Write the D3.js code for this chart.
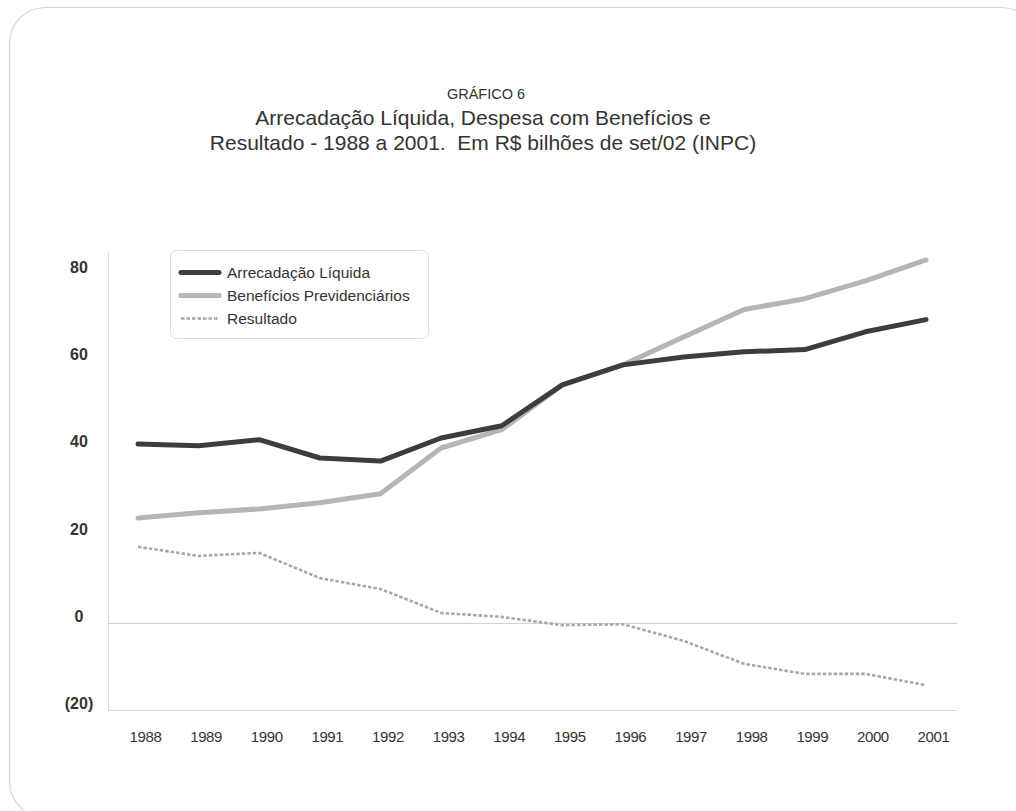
<!DOCTYPE html>
<html>
<head>
<meta charset="utf-8">
<script src="https://cdn.jsdelivr.net/npm/d3@7/dist/d3.min.js"></script>
<style>
  html, body { margin: 0; padding: 0; background: #fff; }
  svg { display: block; font-family: "Liberation Sans", Arial, Helvetica, sans-serif; }
</style>
</head>
<body>
<svg id="chart" width="1016" height="811"></svg>
<script>
// Anos da série
const years = [1988, 1989, 1990, 1991, 1992, 1993, 1994, 1995, 1996, 1997, 1998, 1999, 2000, 2001];
// Valores em R$ bilhões de set/02 (INPC)
const arrecadacao = [41.1, 40.7, 42.1, 37.9, 37.2, 42.5, 45.3, 54.7, 59.3, 61.1, 62.3, 62.8, 66.9, 69.7];
const beneficios  = [24.1, 25.3, 26.2, 27.6, 29.7, 40.2, 44.4, 54.7, 59.3, 65.7, 72.0, 74.5, 78.6, 83.4];
const resultado   = [17.5, 15.4, 16.1, 10.3, 7.8, 2.3, 1.4, -0.5, -0.3, -4.1, -9.4, -11.7, -11.7, -14.3];
// Marcas do eixo vertical
const yTicks = [-20, 0, 20, 40, 60, 80];
const yTickLabels = ["(20)", "0", "20", "40", "60", "80"];
const seriesNames = ["Arrecadação Líquida", "Benefícios Previdenciários", "Resultado"];

const svg = d3.select("#chart");

// Moldura arredondada
svg.append("rect")
  .attr("x", 9.5).attr("y", 7.5)
  .attr("width", 1028).attr("height", 810)
  .attr("rx", 36).attr("ry", 36)
  .attr("fill", "#fff")
  .attr("stroke", "#d6d6d6").attr("stroke-width", 1.2);

// Títulos
svg.append("text").attr("x", 486).attr("y", 99)
  .attr("text-anchor", "middle").attr("font-size", 14.5).attr("fill", "#333")
  .text("GRÁFICO 6");
svg.append("text").attr("x", 483).attr("y", 124.5)
  .attr("text-anchor", "middle").attr("font-size", 21).attr("fill", "#333")
  .text("Arrecadação Líquida, Despesa com Benefícios e");
svg.append("text").attr("x", 483).attr("y", 149.5)
  .attr("text-anchor", "middle").attr("font-size", 21).attr("fill", "#333")
  .attr("xml:space", "preserve")
  .text("Resultado - 1988 a 2001.  Em R$ bilhões de set/02 (INPC)");

// Escalas
const x = d3.scaleLinear().domain([1988, 2001]).range([138, 926]);
const y = d3.scaleLinear().domain([-20, 85]).range([710, 253]);
const plotLeft = 108, plotRight = 957;

// Eixos
svg.append("line")
  .attr("x1", plotLeft + 0.5).attr("x2", plotLeft + 0.5)
  .attr("y1", y(85)).attr("y2", y(-20))
  .attr("stroke", "#dcdcdc").attr("stroke-width", 1);
svg.append("line")
  .attr("x1", plotLeft).attr("x2", plotRight)
  .attr("y1", y(-20) + 0.5).attr("y2", y(-20) + 0.5)
  .attr("stroke", "#dcdcdc").attr("stroke-width", 1);
svg.append("line")
  .attr("x1", plotLeft).attr("x2", plotRight)
  .attr("y1", y(0) + 0.5).attr("y2", y(0) + 0.5)
  .attr("stroke", "#cfcfcf").attr("stroke-width", 1);

// Rótulos do eixo Y
const yAxis = d3.axisLeft(y).tickValues(yTicks)
  .tickFormat((d, i) => yTickLabels[i]).tickSize(0).tickPadding(0);
const gy = svg.append("g").attr("transform", "translate(79,-7)").call(yAxis);
gy.select(".domain").remove();
gy.selectAll("text")
  .attr("text-anchor", "middle")
  .attr("font-family", "'Liberation Sans', Arial, sans-serif")
  .attr("font-size", 16).attr("font-weight", "bold").attr("fill", "#333");

// Rótulos do eixo X
const xAxis = d3.axisBottom(x).tickValues(years)
  .tickFormat(d3.format("d")).tickSize(0).tickPadding(0);
const gx = svg.append("g").attr("transform", "translate(7,731)").call(xAxis);
gx.select(".domain").remove();
gx.selectAll("text")
  .attr("font-family", "'Liberation Sans', Arial, sans-serif")
  .attr("font-size", 15).attr("letter-spacing", "-0.4").attr("fill", "#333");

// Linhas
const line = d3.line().x((d, i) => x(years[i])).y(d => y(d));
const styles = [
  { data: arrecadacao, color: "#3d3d3d", width: 5, dash: null },
  { data: beneficios,  color: "#b5b5b5", width: 5, dash: null },
  { data: resultado,   color: "#a8a8a8", width: 2.6, dash: "3.5,2" }
];
// Resultado primeiro, depois Benefícios e Arrecadação por cima
[2, 1, 0].forEach(k => {
  const s = styles[k];
  svg.append("path").datum(s.data)
    .attr("d", line)
    .attr("fill", "none")
    .attr("stroke", s.color)
    .attr("stroke-width", s.width)
    .attr("stroke-linejoin", "round")
    .attr("stroke-linecap", s.dash ? "butt" : "round")
    .attr("stroke-dasharray", s.dash);
});

// Legenda
const lg = svg.append("g").attr("transform", "translate(170,250)");
lg.append("rect").attr("x", 0.5).attr("y", 0.5)
  .attr("width", 258).attr("height", 88).attr("rx", 6)
  .attr("fill", "#fff").attr("stroke", "#dedede");
seriesNames.forEach((name, i) => {
  const s = styles[i];
  const yy = 22.5 + i * 23;
  lg.append("line").attr("x1", 11).attr("x2", 49)
    .attr("y1", yy).attr("y2", yy)
    .attr("stroke", s.color).attr("stroke-width", s.width)
    .attr("stroke-linecap", s.dash ? "butt" : "round")
    .attr("stroke-dasharray", s.dash);
  lg.append("text").attr("x", 57).attr("y", yy + 5.5)
    .attr("font-size", 15.5).attr("fill", "#333").text(name);
});
</script>
</body>
</html>
